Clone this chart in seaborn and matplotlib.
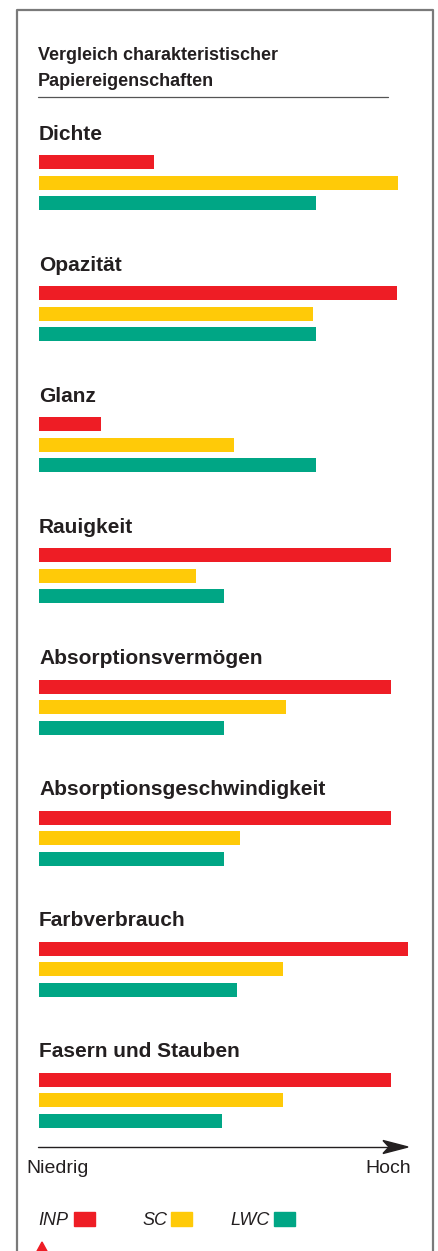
import matplotlib

matplotlib.use("Agg")
import matplotlib.pyplot as plt
import pandas as pd
import seaborn as sns
from matplotlib.patches import Polygon, Rectangle


PROPERTIES = [
    "Dichte",
    "Opazität",
    "Glanz",
    "Rauigkeit",
    "Absorptionsvermögen",
    "Absorptionsgeschwindigkeit",
    "Farbverbrauch",
    "Fasern und Stauben",
]
PAPERS = ["INP", "SC", "LWC"]
INP_VALUES = [31.2, 97.0, 16.8, 95.4, 95.4, 95.4, 100.0, 95.4]
SC_VALUES = [97.3, 74.3, 52.8, 42.5, 66.9, 54.5, 66.1, 66.1]
LWC_VALUES = [75.1, 75.1, 75.1, 50.1, 50.1, 50.1, 53.7, 49.6]
TITLE_LINES = ["Vergleich charakteristischer", "Papiereigenschaften"]
AXIS_LOW = "Niedrig"
AXIS_HIGH = "Hoch"

COLORS = {"INP": "#ee1d25", "SC": "#ffca08", "LWC": "#00a685"}
FONT = ["Liberation Sans Narrow", "Liberation Sans", "DejaVu Sans"]

W, H = 438, 1251


def build_table() -> pd.DataFrame:
    rows = []
    for i, prop in enumerate(PROPERTIES):
        for paper, values in zip(PAPERS, [INP_VALUES, SC_VALUES, LWC_VALUES]):
            rows.append({"property": prop, "paper": paper, "value": values[i]})
    return pd.DataFrame(rows)


def main() -> None:
    sns.set_theme(style="white")
    plt.rcParams["font.family"] = FONT
    plt.rcParams["text.color"] = "#231f20"

    data = build_table()
    fig = plt.figure(figsize=(W / 100, H / 100), dpi=100)

    # overlay in pixel coordinates for frame, rules, arrow and legend
    ov = fig.add_axes([0, 0, 1, 1], zorder=-1)
    ov.set_xlim(0, W)
    ov.set_ylim(H, 0)
    ov.axis("off")

    ov.plot([17, 17, 433, 433], [H + 5, 10, 10, H + 5], color="#7a7a7a", lw=1.6)
    ov.text(38, 60, TITLE_LINES[0], fontsize=13, fontweight="bold", va="baseline")
    ov.text(38, 86, TITLE_LINES[1], fontsize=13, fontweight="bold", va="baseline")
    ov.plot([38, 388], [97, 97], color="#555555", lw=0.9)

    pitch = 20.5
    bar_h = 14
    for i, prop in enumerate(PROPERTIES):
        red_top = 155 + 131.14 * i
        top = red_top - (pitch - bar_h) / 2
        ax = fig.add_axes([39 / W, 1 - (top + 3 * pitch) / H, 369 / W, 3 * pitch / H])
        sns.barplot(
            data=data[data["property"] == prop],
            x="value",
            y="paper",
            hue="paper",
            order=PAPERS,
            hue_order=PAPERS,
            palette=COLORS,
            saturation=1,
            width=bar_h / pitch,
            linewidth=0,
            legend=False,
            ax=ax,
        )
        ax.set_xlim(0, 100)
        ax.set_ylim(2.5, -0.5)
        ax.axis("off")
        ov.text(39, red_top - 15.5, prop, fontsize=15, fontweight="bold", va="baseline")

    # Niedrig -> Hoch arrow
    ov.plot([38, 392], [1147, 1147], color="#231f20", lw=1.0)
    ov.add_patch(Polygon([(408, 1147), (383, 1140.5), (389, 1147), (383, 1153.5)],
                         closed=True, color="#231f20"))
    ov.text(26, 1173, AXIS_LOW, fontsize=14, va="baseline")
    ov.text(411, 1173, AXIS_HIGH, fontsize=14, va="baseline", ha="right")

    # legend
    for paper, tx, bx in zip(PAPERS, [38, 142, 230], [74, 171, 274]):
        ov.text(tx, 1225, paper, fontsize=13, style="italic", va="baseline")
        ov.add_patch(Rectangle((bx, 1212), 21, 14, color=COLORS[paper]))

    ov.add_patch(Polygon([(36, 1253), (42, 1242), (48, 1253)], closed=True, color="#ee1d25"))

    fig.savefig("out.png", dpi=100)
    plt.close(fig)


if __name__ == "__main__":
    main()
